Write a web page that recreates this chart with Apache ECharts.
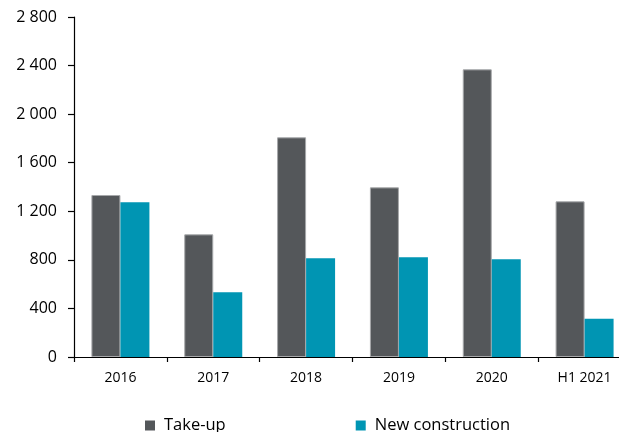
<!DOCTYPE html>
<html>
<head>
<meta charset="utf-8">
<script src="https://cdn.jsdelivr.net/npm/echarts@6/dist/echarts.min.js"></script>
<style>
  html, body { margin: 0; padding: 0; background: #fff; overflow: hidden; }
  #chart { width: 631px; height: 432px; }
</style>
</head>
<body>
<div id="chart"></div>
<script>
const categories = ['2016', '2017', '2018', '2019', '2020', 'H1 2021'];
const takeUp = [1334, 1010, 1809, 1397, 2369, 1282];
const newConstruction = [1274, 533, 813, 821, 804, 316];
const yTicks = [0, 400, 800, 1200, 1600, 2000, 2400, 2800];

const FONT = '"Open Sans", sans-serif';
const fmt = (v) => String(v).replace(/\B(?=(\d{3})+(?!\d))/g, ' ');

// the plot area runs a little past the right edge of the picture, as in the source
const chart = echarts.init(document.getElementById('chart'));
chart.setOption({
  animation: false,
  grid: { left: 74, top: 17, right: 0, height: 340 },
  legend: {
    left: 140,
    top: 412,
    itemWidth: 10,
    itemHeight: 10,
    itemGap: 130,
    icon: 'rect',
    itemStyle: { borderWidth: 0 },
    textStyle: { fontFamily: FONT, fontSize: 16.5, color: '#000', padding: [0, 0, 0, 4] },
    data: ['Take-up', 'New construction'],
  },
  xAxis: {
    type: 'category',
    data: categories,
    axisLine: { lineStyle: { color: '#000', width: 1.2 } },
    axisTick: { show: true, length: 5, lineStyle: { color: '#000', width: 1.2 } },
    axisLabel: { fontFamily: FONT, fontSize: 14, color: '#000', margin: 14 },
  },
  yAxis: {
    type: 'value',
    min: yTicks[0],
    max: yTicks[yTicks.length - 1],
    interval: 400,
    splitLine: { show: false },
    axisLine: { show: true, lineStyle: { color: '#000', width: 1.2 } },
    axisTick: { show: true, inside: false, length: 6, lineStyle: { color: '#000', width: 1.2 } },
    axisLabel: { fontFamily: FONT, fontSize: 16, color: '#000', margin: 17, formatter: fmt },
  },
  series: [
    {
      name: 'Take-up',
      type: 'bar',
      data: takeUp,
      barWidth: 29,
      barGap: '0%',
      itemStyle: { color: '#54575A', borderColor: '#A6A8AA', borderWidth: 1 },
    },
    {
      name: 'New construction',
      type: 'bar',
      data: newConstruction,
      barWidth: 29,
      itemStyle: { color: '#0095B3' },
    },
  ],
});
</script>
</body>
</html>
